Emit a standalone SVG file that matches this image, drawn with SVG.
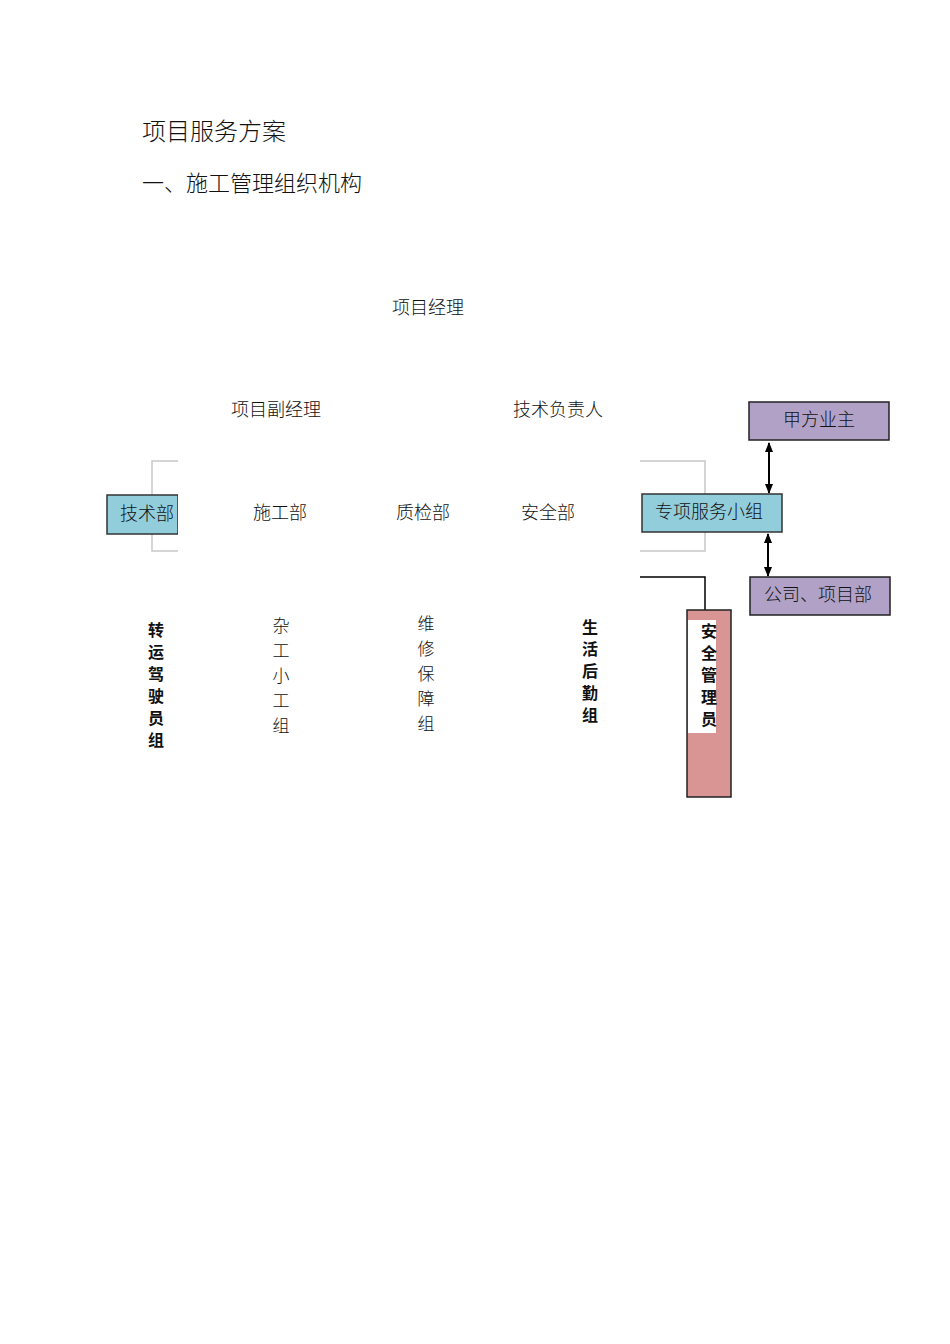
<svg xmlns="http://www.w3.org/2000/svg" width="950" height="1344" viewBox="0 0 950 1344">
<style>
text{font-family:"Noto Sans CJK SC","Liberation Serif",serif;fill:#111}
.t{font-size:18px;font-weight:300}
.v{font-size:17px;font-weight:300;text-anchor:middle}
.b{font-size:16px;font-weight:700;text-anchor:middle}
.blue{fill:#92cddc;stroke:#333;stroke-width:1.5}
.purple{fill:#b2a1c7;stroke:#222;stroke-width:1.5}
.gray{fill:none;stroke:#c8c8c8;stroke-width:1.5}
</style>
<defs>
<marker id="ah" markerUnits="userSpaceOnUse" markerWidth="10" markerHeight="10" refX="9" refY="5" orient="auto-start-reverse"><path d="M0,1L10,5L0,9z" fill="#000"/></marker>
</defs>
<rect width="950" height="1344" fill="#fff"/>
<text x="142" y="140" style="font-size:24px;font-weight:300">项目服务方案</text>
<text x="142" y="191" style="font-size:22px;font-weight:300">一、施工管理组织机构</text>
<g id="n-pm"><text class="t" x="392" y="314">项目经理</text></g>
<g id="n-vpm"><text class="t" x="231" y="416">项目副经理</text></g>
<g id="n-tech-lead"><text class="t" x="513" y="416">技术负责人</text></g>
<g id="connectors">
<path class="gray" d="M178,461H152V551H178"/>
<path class="gray" d="M640,461H705V551H640"/>
<path d="M640,577H705V610" fill="none" stroke="#000" stroke-width="1.5"/>
<line x1="769" y1="443" x2="769" y2="493" stroke="#000" stroke-width="2" marker-start="url(#ah)" marker-end="url(#ah)"/>
<line x1="768" y1="534" x2="768" y2="576" stroke="#000" stroke-width="2" marker-start="url(#ah)" marker-end="url(#ah)"/>
</g>
<g id="n-jsb"><rect class="blue" x="107" y="495" width="71" height="39"/><rect x="178" y="490" width="4" height="48" fill="#fff"/><text class="t" x="120" y="520">技术部</text></g>
<g id="n-sgb"><text class="t" x="253" y="519">施工部</text></g>
<g id="n-zjb"><text class="t" x="396" y="519">质检部</text></g>
<g id="n-aqb"><text class="t" x="521" y="519">安全部</text></g>
<g id="n-zxfw"><rect class="blue" x="642" y="494" width="140" height="38"/><text class="t" x="655" y="518">专项服务小组</text></g>
<g id="n-jfyz"><rect class="purple" x="749" y="402" width="140" height="38"/><text class="t" x="783" y="426">甲方业主</text></g>
<g id="n-gs"><rect class="purple" x="750" y="577" width="140" height="38"/><text class="t" x="764" y="601">公司、项目部</text></g>
<g id="n-zy"><text class="b" x="156" y="636">转</text><text class="b" x="156" y="658">运</text><text class="b" x="156" y="680">驾</text><text class="b" x="156" y="702">驶</text><text class="b" x="156" y="724">员</text><text class="b" x="156" y="746">组</text></g>
<g id="n-zg"><text class="v" x="281" y="632">杂</text><text class="v" x="281" y="657">工</text><text class="v" x="281" y="682">小</text><text class="v" x="281" y="707">工</text><text class="v" x="281" y="732">组</text></g>
<g id="n-wx"><text class="v" x="426" y="630">维</text><text class="v" x="426" y="655">修</text><text class="v" x="426" y="680">保</text><text class="v" x="426" y="705">障</text><text class="v" x="426" y="730">组</text></g>
<g id="n-sh"><text class="b" x="590" y="633">生</text><text class="b" x="590" y="655">活</text><text class="b" x="590" y="677">后</text><text class="b" x="590" y="699">勤</text><text class="b" x="590" y="721">组</text></g>
<g id="n-aqy"><rect x="687" y="610" width="44" height="187" fill="#d99594" stroke="#222" stroke-width="1.5"/><rect x="688" y="620" width="28" height="113" fill="#fff"/><text class="b" x="709" y="637">安</text><text class="b" x="709" y="659">全</text><text class="b" x="709" y="681">管</text><text class="b" x="709" y="703">理</text><text class="b" x="709" y="725">员</text></g>
</svg>
